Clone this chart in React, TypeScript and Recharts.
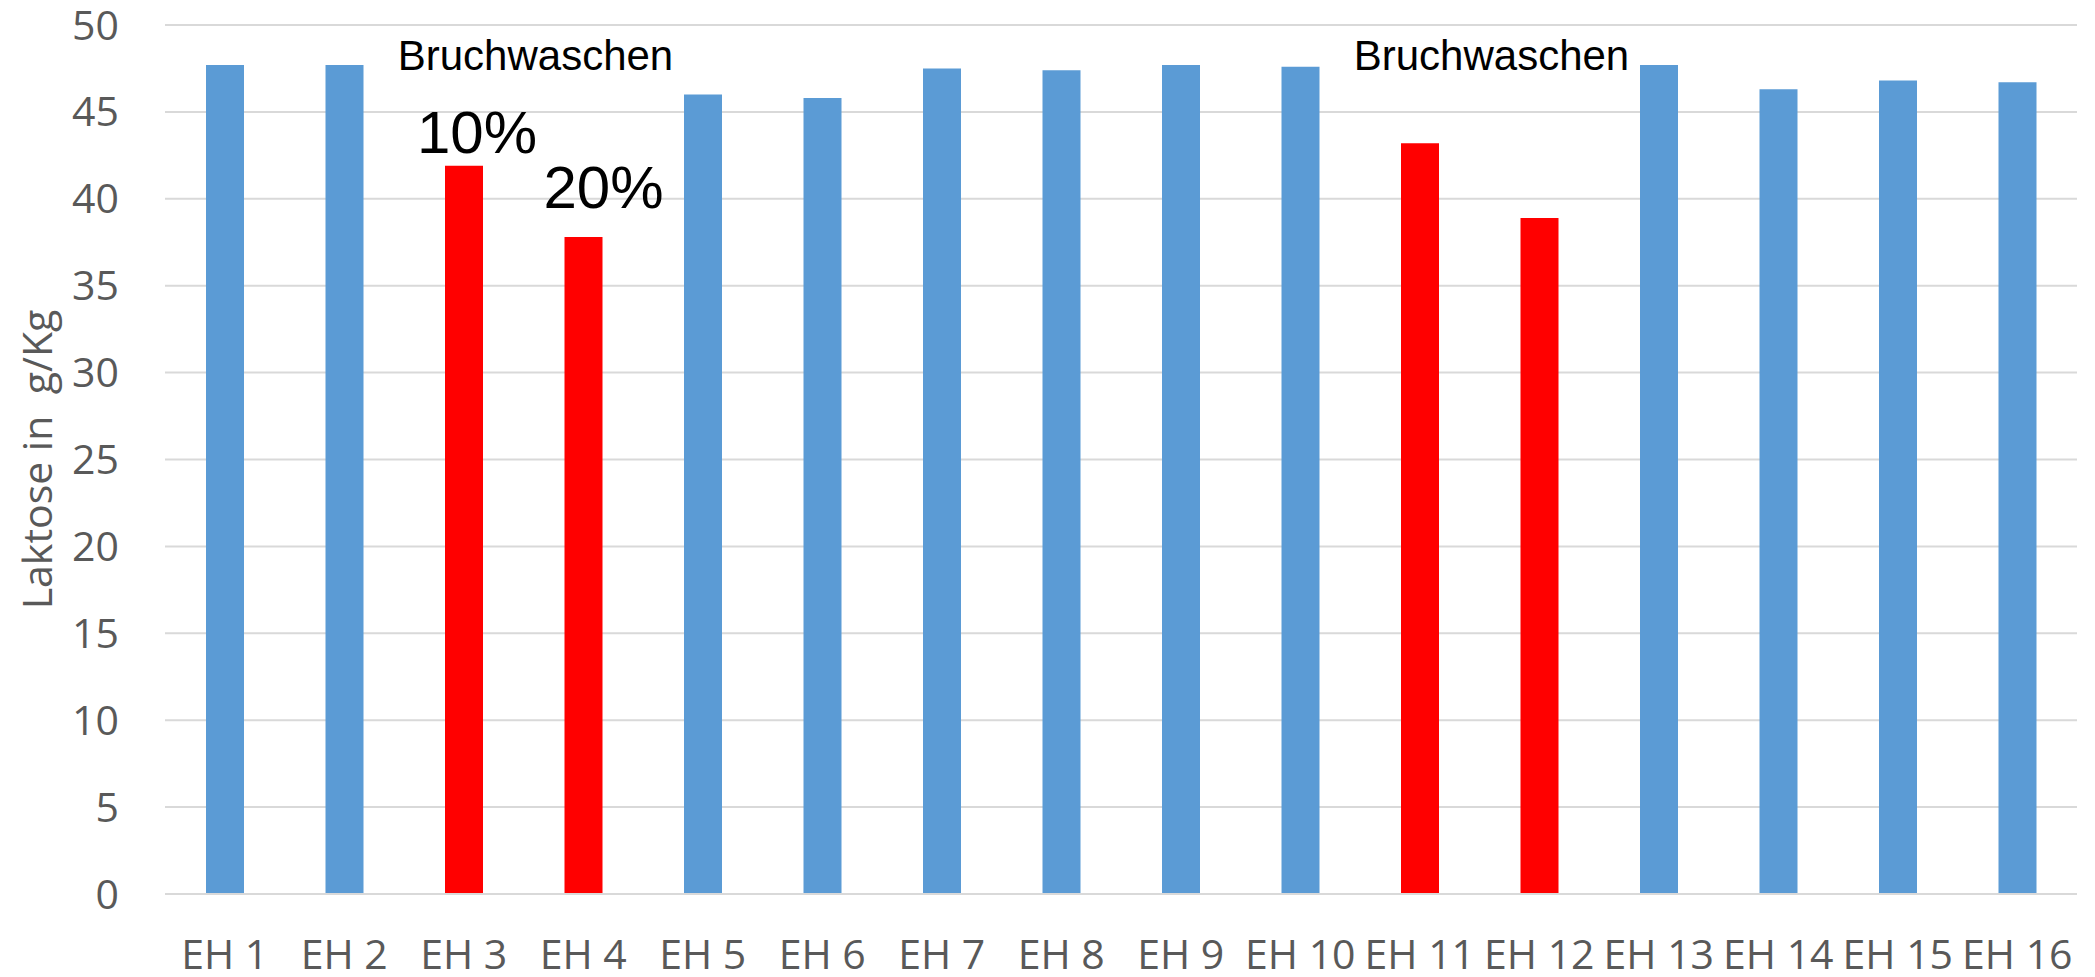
import { BarChart, Bar, XAxis, YAxis, CartesianGrid, Cell, LabelList, ReferenceArea } from 'recharts'

const categories = ['EH 1', 'EH 2', 'EH 3', 'EH 4', 'EH 5', 'EH 6', 'EH 7', 'EH 8', 'EH 9', 'EH 10', 'EH 11', 'EH 12', 'EH 13', 'EH 14', 'EH 15', 'EH 16']
const laktose = [47.7, 47.7, 41.9, 37.8, 46.0, 45.8, 47.5, 47.4, 47.7, 47.6, 43.2, 38.9, 47.7, 46.3, 46.8, 46.7]
const washed = ['EH 3', 'EH 4', 'EH 11', 'EH 12']
const notes = ['', '', '10%', '20%', '', '', '', '', '', '', '', '', '', '', '', '']
const yTicks = [0, 5, 10, 15, 20, 25, 30, 35, 40, 45, 50]
const groups = [['EH 3', 'EH 4'], ['EH 11', 'EH 12']]

const BLUE = '#5b9bd5'
const RED = '#ff0000'
const AXIS_FONT = '"Open Sans", sans-serif'
const NOTE_FONT = '"Liberation Sans", Arial, sans-serif'

const data = categories.map((name, i) => ({ name, value: laktose[i], note: notes[i] }))

function NoteLabel(props: any) {
    const { x, y, width, value, index } = props
    if(!value) return null
    // the second note sits a bit higher / more to the right in the original
    const dx = index === 3 ? 20 : 13
    const dy = index === 3 ? 29 : 13
    return (
        <text x={x + width / 2 + dx} y={y - dy} textAnchor="middle" fontFamily={NOTE_FONT} fontSize={60} fill="#000">
            {value}
        </text>
    )
}

function AxisTitle(props: any) {
    const { viewBox } = props
    const cy = viewBox.y + viewBox.height / 2
    const cx = 52
    return (
        <text x={cx} y={cy} transform={`rotate(-90 ${cx} ${cy})`} textAnchor="middle" fontFamily={AXIS_FONT} fontSize={41} fill="#595959">
            {'Laktose in\u00a0\u00a0g/Kg'}
        </text>
    )
}

function GroupLabel(props: any) {
    const { viewBox } = props
    const cx = viewBox.x + viewBox.width / 2 + 12
    return (
        <text x={cx} y={viewBox.y + 45} textAnchor="middle" fontFamily={NOTE_FONT} fontSize={42} fill="#000">
            Bruchwaschen
        </text>
    )
}

export default function App() {
    return (
        <div style={{ position: 'absolute', left: 0, top: 0, width: 2095, height: 977, background: '#fff' }}>
            <BarChart width={2095} height={977} data={data} margin={{ top: 25, right: 18, bottom: 0, left: 0 }}>
                <CartesianGrid vertical={false} stroke="#d9d9d9" strokeWidth={2} />
                <XAxis
                    dataKey="name"
                    height={83}
                    tickSize={0}
                    tickMargin={46}
                    interval={0}
                    axisLine={{ stroke: '#d9d9d9', strokeWidth: 2 }}
                    tick={{ fontSize: 41, fill: '#595959', fontFamily: AXIS_FONT }}
                />
                <YAxis
                    width={165}
                    domain={[0, 50]}
                    ticks={yTicks}
                    tickSize={0}
                    tickMargin={46}
                    axisLine={false}
                    tick={{ fontSize: 41, fill: '#595959', fontFamily: AXIS_FONT }}
                    label={<AxisTitle />}
                />
                {groups.map(([a, b]) => (
                    <ReferenceArea
                        key={a}
                        x1={a}
                        x2={b}
                        y1={0}
                        y2={50}
                        fillOpacity={0}
                        strokeOpacity={0}
                        label={<GroupLabel />}
                    />
                ))}
                <Bar dataKey="value" barSize={38} isAnimationActive={false}>
                    {data.map((d) => (
                        <Cell key={d.name} fill={washed.includes(d.name) ? RED : BLUE} />
                    ))}
                    <LabelList dataKey="note" content={<NoteLabel />} />
                </Bar>
            </BarChart>
        </div>
    )
}
